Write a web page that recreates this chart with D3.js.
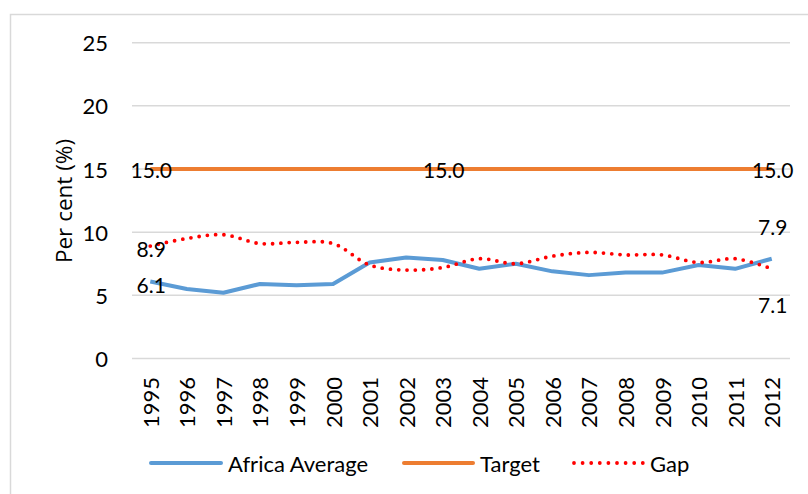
<!DOCTYPE html>
<html>
<head>
<meta charset="utf-8">
<script src="https://cdn.jsdelivr.net/npm/d3@7"></script>
<style>
	body { margin: 0; background: #fff; }
	text { font-family: Lato, "Open Sans", sans-serif; fill: #000; }
</style>
</head>
<body>
<div id="chart"></div>
<script>
// values
var years = ["1995","1996","1997","1998","1999","2000","2001","2002","2003",
	"2004","2005","2006","2007","2008","2009","2010","2011","2012"];
var africaAverage = [6.1,5.5,5.2,5.9,5.8,5.9,7.6,8.0,7.8,7.1,7.5,6.9,6.6,6.8,6.8,7.4,7.1,7.9];
var target = [15,15,15,15,15,15,15,15,15,15,15,15,15,15,15,15,15,15];
var gap = [8.9,9.5,9.8,9.1,9.2,9.1,7.4,7.0,7.2,7.9,7.5,8.1,8.4,8.2,8.2,7.6,7.9,7.1];
var yTicks = [0,5,10,15,20,25];
var seriesNames = ["Africa Average","Target","Gap"];

var W = 808, H = 494;
var svg = d3.select("#chart").append("svg")
	.attr("width", W)
	.attr("height", H);

// outer chart border (runs off the right / bottom edge)
svg.append("rect")
	.attr("x", 10.5).attr("y", 14.5)
	.attr("width", 820).attr("height", 500)
	.style("fill", "none")
	.style("stroke", "#d9d9d9")
	.style("stroke-width", 1.5);

var x = d3.scaleBand().domain(years).range([132, 790]);
var y = d3.scaleLinear().domain([0, 25]).range([358.5, 42.7]);
var cx = function(i){ return x(years[i]) + x.bandwidth() / 2; };

// gridlines + y labels
var yAxis = svg.append("g");
yTicks.forEach(function(t){
	yAxis.append("line")
		.attr("x1", 132).attr("x2", 790)
		.attr("y1", y(t)).attr("y2", y(t))
		.style("stroke", "#d9d9d9")
		.style("stroke-width", 1.5);
	yAxis.append("text")
		.attr("x", 108).attr("y", y(t))
		.attr("text-anchor", "end")
		.attr("dominant-baseline", "central")
		.style("font-size", "22px")
		.text(t);
});

svg.append("text")
	.attr("transform", "translate(63,201) rotate(-90)")
	.attr("text-anchor", "middle")
	.attr("dominant-baseline", "central")
	.style("font-family", "'Open Sans', sans-serif")
	.style("font-size", "22.5px")
	.text("Per cent (%)");

// year labels, rotated
years.forEach(function(yr, i){
	svg.append("text")
		.attr("transform", "translate(" + cx(i) + ",377) rotate(-90)")
		.attr("text-anchor", "end")
		.attr("dominant-baseline", "central")
		.style("font-size", "22px")
		.text(yr);
});

var straight = d3.line()
	.x(function(d, i){ return cx(i); })
	.y(function(d){ return y(d); });
var smooth = d3.line()
	.x(function(d, i){ return cx(i); })
	.y(function(d){ return y(d); })
	.curve(d3.curveCatmullRom.alpha(0.5));

svg.append("path").datum(target)
	.attr("d", straight)
	.style("fill", "none")
	.style("stroke", "#ed7d31")
	.style("stroke-width", 4);

svg.append("path").datum(africaAverage)
	.attr("d", straight)
	.style("fill", "none")
	.style("stroke", "#5b9bd5")
	.style("stroke-width", 4)
	.style("stroke-linejoin", "round");

svg.append("path").datum(gap)
	.attr("d", smooth)
	.style("fill", "none")
	.style("stroke", "#ff0000")
	.style("stroke-width", 3.8)
	.style("stroke-linecap", "round")
	.style("stroke-dasharray", "0 8.3");

// data labels
var labels = [
	{ s: target, i: 0, dy: 0 },
	{ s: target, i: 8, dy: 0 },
	{ s: target, i: 17, dy: 0 },
	{ s: gap, i: 0, dy: 2 },
	{ s: africaAverage, i: 0, dy: 3 },
	{ s: africaAverage, i: 17, dy: -32 },
	{ s: gap, i: 17, dy: 36 }
];
labels.forEach(function(l){
	svg.append("text")
		.attr("x", cx(l.i) + 1)
		.attr("y", y(l.s[l.i]) + l.dy)
		.attr("text-anchor", "middle")
		.attr("dominant-baseline", "central")
		.style("font-size", "21px")
		.text(d3.format(".1f")(l.s[l.i]));
});

// legend
var legend = [
	{ x1: 151, x2: 221, tx: 228, color: "#5b9bd5", dash: null },
	{ x1: 404, x2: 473, tx: 480, color: "#ed7d31", dash: null },
	{ x1: 574, x2: 643, tx: 650, color: "#ff0000", dash: "0 8.6" }
];
legend.forEach(function(l, k){
	var ln = svg.append("line")
		.attr("x1", l.x1).attr("x2", l.x2)
		.attr("y1", 463).attr("y2", 463)
		.style("stroke", l.color)
		.style("stroke-width", l.dash ? 3.8 : 4)
		.style("stroke-linecap", "round");
	if (l.dash) ln.style("stroke-dasharray", l.dash);
	svg.append("text")
		.attr("x", l.tx).attr("y", 463)
		.attr("dominant-baseline", "central")
		.style("font-size", "22px")
		.text(seriesNames[k]);
});
</script>
</body>
</html>
